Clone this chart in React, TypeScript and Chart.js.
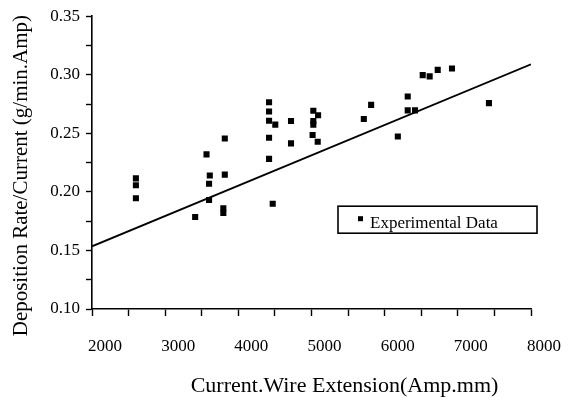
import React, { useEffect, useRef } from "react";
import { Chart, registerables } from "chart.js";

Chart.register(...registerables);

// Experimental data (Current x Wire Extension vs Deposition Rate/Current)
const extension = [
  2600, 2600, 2600, 3565, 3410, 3610, 3600, 3600, 3815, 3815, 3795, 3795,
  4420, 4420, 4420, 4505, 4420, 4420, 4470, 4720, 4720, 5025, 5090, 5025,
  5025, 5015, 5085, 5715, 5815, 6180, 6315, 6315, 6415, 6520, 6615, 6725,
  6920, 7425,
];
const depositionRate = [
  0.2115, 0.2056, 0.1946, 0.232, 0.1786, 0.214, 0.207, 0.193, 0.2456, 0.2147,
  0.186, 0.182, 0.2766, 0.2687, 0.2608, 0.2574, 0.2462, 0.2282, 0.1898,
  0.2605, 0.2414, 0.2693, 0.2654, 0.2605, 0.2574, 0.2485, 0.2428, 0.2622,
  0.2743, 0.2473, 0.2814, 0.2696, 0.2696, 0.2997, 0.2986, 0.3042, 0.3053,
  0.2758,
];
// Fitted line end points
const fitX = [2000, 8000];
const fitY = [0.1535, 0.309];

const xMin = 2000;
const xMax = 8000;
const yMin = 0.1;
const yMax = 0.35;

const seriesLabel = "Experimental Data";
const xTitle = "Current.Wire Extension(Amp.mm)";
const yTitle = "Deposition Rate/Current (g/min.Amp)";

const SERIF = "'Liberation Serif', 'Times New Roman', serif";

const legendBoxPlugin = {
  id: "legendBox",
  afterDraw(chart: any) {
    const { ctx, chartArea } = chart;
    const ds = chart.data.datasets[0];
    const left = chartArea.left + 246;
    const top = chartArea.top + 190;
    const w = 199;
    const h = 27;
    ctx.save();
    ctx.strokeStyle = "#000";
    ctx.lineWidth = 1.6;
    ctx.strokeRect(left, top, w, h);
    ctx.fillStyle = "#000";
    ctx.fillRect(left + 20, top + 10, 5, 5);
    ctx.font = "17px " + SERIF;
    ctx.textBaseline = "alphabetic";
    ctx.textAlign = "left";
    ctx.fillText(ds.label, left + 32, top + 22);
    ctx.restore();
  },
};

const axisTitlesPlugin = {
  id: "axisTitles",
  afterDraw(chart: any) {
    const { ctx, chartArea } = chart;
    ctx.save();
    ctx.fillStyle = "#000";
    ctx.textAlign = "center";
    ctx.textBaseline = "alphabetic";
    // x-axis title
    ctx.font = "22px " + SERIF;
    ctx.fillText(
      xTitle,
      (chartArea.left + chartArea.right) / 2 + 33,
      chartArea.bottom + 83
    );
    // y-axis title
    ctx.font = "21px " + SERIF;
    ctx.translate(chartArea.left - 65, (chartArea.top + chartArea.bottom) / 2 + 13);
    ctx.rotate(-Math.PI / 2);
    ctx.fillText(yTitle, 0, 0);
    ctx.restore();
  },
};

export default function App() {
  const ref = useRef<HTMLCanvasElement>(null);

  useEffect(() => {
    document.body.style.margin = "0";
    const canvas = ref.current;
    if (!canvas) return;
    const chart = new Chart(canvas, {
      type: "scatter",
      data: {
        datasets: [
          {
            label: seriesLabel,
            data: extension.map((x, i) => ({ x, y: depositionRate[i] })),
            pointStyle: "rect",
            pointRadius: 4.3,
            pointBorderWidth: 0,
            backgroundColor: "#000",
            borderColor: "#000",
            showLine: false,
          },
          {
            label: "fit",
            type: "line",
            data: fitX.map((x, i) => ({ x, y: fitY[i] })),
            borderColor: "#000",
            borderWidth: 1.8,
            pointRadius: 0,
            fill: false,
          } as any,
        ],
      },
      options: {
        animation: false,
        responsive: false,
        devicePixelRatio: 1,
        layout: { padding: { top: 13, right: 54, bottom: 0, left: 0 } },
        plugins: {
          legend: { display: false },
          tooltip: { enabled: false },
        },
        scales: {
          x: {
            type: "linear",
            min: xMin,
            max: xMax,
            border: { color: "#000", width: 1.6 },
            grid: {
              drawOnChartArea: false,
              drawTicks: true,
              tickLength: 7,
              tickColor: "#000",
              tickWidth: 1.4,
            },
            ticks: {
              stepSize: 500,
              autoSkip: false,
              maxRotation: 0,
              padding: 20,
              labelOffset: 13,
              color: "#000",
              font: { family: SERIF, size: 17 },
              callback: (v: any) => (Number(v) % 1000 === 0 ? String(v) : ""),
            },
            title: { display: false, text: xTitle },
            afterFit: (scale: any) => {
              scale.height = 91;
            },
          },
          y: {
            type: "linear",
            min: yMin,
            max: yMax,
            border: { color: "#000", width: 1.6 },
            grid: {
              drawOnChartArea: false,
              drawTicks: true,
              tickLength: 6,
              tickColor: "#000",
              tickWidth: 1.4,
            },
            ticks: {
              stepSize: 0.025,
              autoSkip: false,
              padding: 6,
              color: "#000",
              font: { family: SERIF, size: 17 },
              callback: (v: any) =>
                Math.round(Number(v) * 1000) % 50 === 0
                  ? Number(v).toFixed(2)
                  : "",
            },
            title: { display: false, text: yTitle },
            afterFit: (scale: any) => {
              scale.width = 92;
            },
          },
        },
      },
      plugins: [legendBoxPlugin, axisTitlesPlugin],
    });
    return () => chart.destroy();
  }, []);

  return (
    <div style={{ position: "fixed", left: 0, top: 0, width: 585, height: 400, background: "#fff" }}>
      <canvas ref={ref} width={585} height={400} />
    </div>
  );
}
